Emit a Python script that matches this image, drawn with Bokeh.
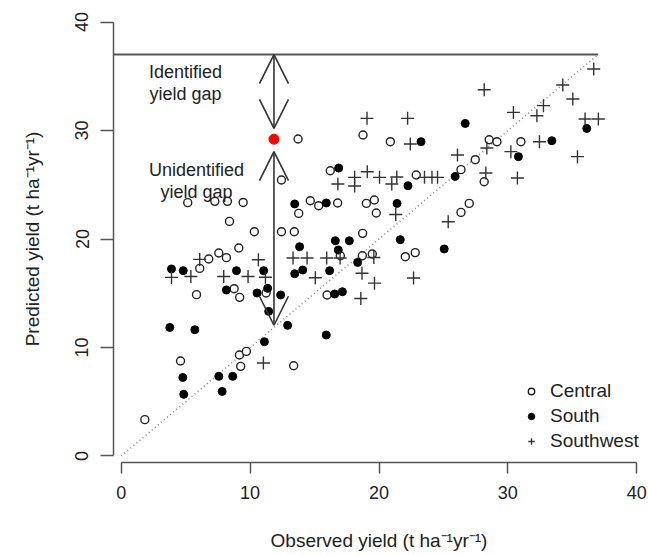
from bokeh.plotting import figure
from bokeh.models import FixedTicker, Arrow, OpenHead, Label, Legend, LegendItem
from bokeh.embed import file_html
from bokeh.resources import INLINE

# ---------------- data ----------------
central_x = [1.83, 4.60, 9.17, 9.71, 9.27, 13.38, 5.16, 7.26, 8.24, 9.46, 8.40, 10.33, 9.12,
             7.57, 8.16, 6.79, 6.09, 5.84, 8.76, 9.19, 11.24, 12.43, 13.43, 13.77, 14.67,
             15.32, 16.79, 12.43, 15.97, 16.22, 19.02, 19.64, 19.79, 18.73, 18.71, 19.48,
             17.00, 22.04, 22.81, 18.76, 20.88, 22.89, 28.16, 26.36, 27.47, 28.55, 29.15,
             31.01, 26.36, 27.00, 13.72]
central_y = [3.35, 8.76, 9.31, 9.64, 8.26, 8.32, 23.35, 23.47, 23.47, 23.37, 21.62, 20.67, 19.17,
             18.71, 18.28, 18.16, 17.29, 14.87, 15.42, 14.62, 15.02, 20.67, 20.67, 22.36, 23.53,
             23.07, 23.32, 25.44, 14.84, 26.29, 23.28, 23.59, 22.40, 20.52, 18.46, 18.62,
             18.46, 18.37, 18.74, 29.59, 28.97, 25.90, 25.28, 26.39, 27.31, 29.15, 28.97,
             28.97, 22.45, 23.28, 29.22]

south_x = [3.77, 5.71, 4.78, 4.85, 7.57, 7.83, 8.65, 11.11, 12.91, 11.44, 3.90, 4.81, 8.94,
           8.16, 10.54, 11.05, 11.36, 12.37, 13.46, 15.91, 13.84, 13.46, 14.08, 16.17, 16.61,
           16.84, 17.70, 16.56, 17.16, 15.91, 16.87, 18.34, 21.40, 21.65, 25.06, 23.26, 22.25,
           25.91, 26.69, 30.82, 33.41, 36.12]
south_y = [11.85, 11.64, 7.24, 5.68, 7.34, 5.95, 7.34, 10.53, 12.04, 13.33, 17.24, 17.08, 17.08,
           15.30, 15.02, 17.08, 15.45, 14.84, 23.23, 23.32, 19.29, 16.80, 17.14, 17.08, 19.84,
           18.99, 19.84, 14.93, 15.14, 11.15, 26.54, 17.84, 23.28, 19.94, 19.08, 28.97, 24.91,
           25.77, 30.65, 27.59, 29.06, 30.19]

southwest_x = [11.03, 6.09, 3.90, 5.40, 7.95, 9.84, 10.64, 11.19, 13.33, 14.42, 15.06, 15.94,
               16.98, 16.81, 18.11, 18.11, 19.09, 20.04, 20.99, 21.38, 21.30, 19.60, 18.68,
               19.65, 18.59, 22.68, 25.37, 19.07, 22.22, 22.43, 23.53, 24.11, 24.54, 26.09,
               28.29, 28.37, 28.16, 30.23, 30.43, 30.74, 32.25, 32.45, 32.76, 34.26, 35.04,
               35.40, 35.99, 37.02, 36.66]
southwest_y = [8.57, 18.12, 16.46, 16.55, 16.55, 16.55, 18.09, 16.48, 18.25, 18.25, 16.43, 18.25,
               18.25, 25.07, 25.68, 24.88, 26.20, 25.68, 25.07, 25.71, 22.26, 18.30, 16.85,
               15.93, 14.52, 16.41, 21.59, 31.12, 31.12, 28.76, 25.68, 25.68, 25.68, 27.74,
               26.08, 28.39, 33.76, 28.05, 31.67, 25.62, 31.36, 28.97, 32.29, 34.19, 32.90,
               27.59, 31.06, 31.06, 35.67]

attainable_yield = 37.0          # identified potential (horizontal line)
example_observed = 11.85         # highlighted site
example_predicted = 29.2
identified_gap = [30.2, 37.0]    # arrow from / to
unidentified_gap = [28.05, 12.05]
axis_ticks = [0, 10, 20, 30, 40]
axis_range = (-0.6, 40.6)

FONT = "Liberation Sans"

p = figure(width=648, height=555, x_range=axis_range, y_range=axis_range,
           output_backend="svg", toolbar_location=None,
           min_border_left=113, min_border_right=4, min_border_top=15, min_border_bottom=93)
p.outline_line_color = None
p.xgrid.visible = False
p.ygrid.visible = False
p.background_fill_color = "white"

for ax in (p.xaxis[0], p.yaxis[0]):
    ax.ticker = FixedTicker(ticks=axis_ticks)
    ax.bounds = (axis_ticks[0], axis_ticks[-1])
    ax.axis_line_color = "#555555"
    ax.axis_line_width = 1.5
    ax.major_tick_line_color = "#555555"
    ax.major_tick_line_width = 1.5
    ax.major_tick_in = 0
    ax.major_tick_out = 11
    ax.minor_tick_in = 0
    ax.minor_tick_out = 0
    ax.major_label_text_font = FONT
    ax.major_label_text_font_size = "18px"
    ax.major_label_text_color = "#222222"
    ax.axis_label_text_font = FONT
    ax.axis_label_text_font_size = "19px"
    ax.axis_label_text_font_style = "normal"
    ax.axis_label_text_color = "#222222"

p.xaxis.axis_label = "Observed yield (t ha\u207b\u00b9yr\u207b\u00b9)"
p.yaxis.axis_label = "Predicted yield (t ha\u207b\u00b9yr\u207b\u00b9)"
p.xaxis.major_label_standoff = 12
p.xaxis.axis_label_standoff = 28
p.yaxis.major_tick_out = 13
p.yaxis.major_label_orientation = "vertical"
p.yaxis.major_label_standoff = 12
p.yaxis.axis_label_standoff = 30

# horizontal line of the identified potential
p.segment(x0=[axis_range[0]], y0=[attainable_yield], x1=[attainable_yield], y1=[attainable_yield],
          line_color="#555555", line_width=2)
# 1:1 line
p.line([0, attainable_yield], [0, attainable_yield], line_color="#888888",
       line_width=1.6, line_dash="1 3")

# points
r_c = p.scatter(central_x, central_y, marker="circle", size=8, fill_color="white",
                line_color="#222222", line_width=1.4)
r_s = p.scatter(south_x, south_y, marker="circle", size=8, fill_color="black",
                line_color="black", line_width=1)
r_w = p.scatter(southwest_x, southwest_y, marker="cross", size=13, line_color="#333333",
                line_width=1.4)

p.scatter([example_observed], [example_predicted], marker="circle", size=10,
          fill_color="red", line_color="red")

# arrows
for y0, y1 in (identified_gap, unidentified_gap):
    p.add_layout(Arrow(start=OpenHead(size=29, line_width=1.6, line_color="#333333"),
                       end=OpenHead(size=29, line_width=1.6, line_color="#333333"),
                       x_start=example_observed, y_start=y0,
                       x_end=example_observed, y_end=y1,
                       line_width=1.6, line_color="#333333"))

# annotations
for txt, x, y in (("Identified", 4.98, 35.42), ("yield gap", 4.98, 33.39),
                  ("Unidentified", 5.84, 26.39), ("yield gap", 5.84, 24.36)):
    p.add_layout(Label(x=x, y=y, text=txt, text_align="center", text_baseline="alphabetic",
                       text_font=FONT, text_font_size="18px", text_color="#222222"))

legend = Legend(items=[LegendItem(label="Central", renderers=[r_c]),
                       LegendItem(label="South", renderers=[r_s]),
                       LegendItem(label="Southwest", renderers=[r_w])],
                location=(410, 10), orientation="vertical",
                label_text_font=FONT, label_text_font_size="19px", label_text_color="#222222",
                glyph_width=16, glyph_height=20, label_standoff=11, spacing=3,
                padding=0, margin=0, border_line_alpha=0, background_fill_alpha=0)
p.add_layout(legend)

open("out.html", "w").write(file_html(p, INLINE))
